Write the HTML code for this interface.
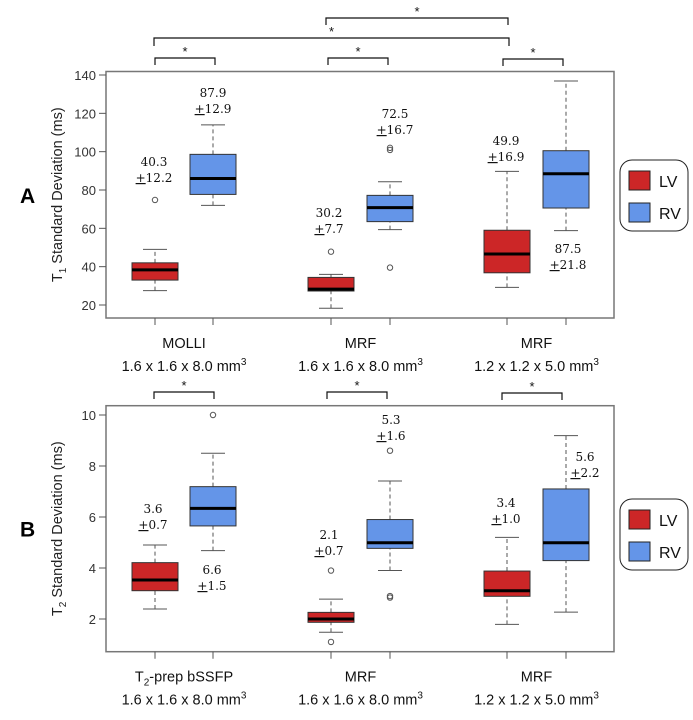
<!DOCTYPE html>
<html><head><meta charset="utf-8"><style>
body{margin:0;background:#fff;}
svg{display:block;font-family:"Liberation Sans",sans-serif;}
.ann{font-family:"DejaVu Serif","Liberation Serif",serif;font-size:12px;fill:#111;text-anchor:middle;}
</style></head><body>
<svg id="chart" width="693" height="720"></svg>
<script>
// Panel A data: [low, q1, median, q3, high]
const groupsA = ["MOLLI","MRF","MRF"];
const subA = ["1.6 x 1.6 x 8.0 mm","1.6 x 1.6 x 8.0 mm","1.2 x 1.2 x 5.0 mm"];
const lvA = [[27.5,33,38.3,42,49],[18.3,27.3,28.3,34.4,36],[29.2,36.8,46.6,59,89.7]];
const rvA = [[72,77.7,86,98.6,114],[59.3,63.5,70.8,77.2,84.3],[58.8,70.6,88.5,100.5,136.9]];
const lvOutA = [[74.8],[47.8],[]];
const rvOutA = [[],[100.9,102,39.5],[]];
const ticksA = [20,40,60,80,100,120,140];
const lvLabA = ["40.3","30.2","49.9"], lvSdA = ["12.2","7.7","16.9"];
const rvLabA = ["87.9","72.5","87.5"], rvSdA = ["12.9","16.7","21.8"];
// Panel B data
const lvB = [[2.39,3.11,3.53,4.21,4.9],[1.48,1.87,2.0,2.26,2.78],[1.79,2.89,3.11,3.88,5.2]];
const rvB = [[4.68,5.65,6.34,7.19,8.5],[3.9,4.77,4.99,5.9,7.41],[2.27,4.29,4.99,7.1,9.19]];
const lvOutB = [[],[3.9,1.1],[]];
const rvOutB = [[10],[8.6,2.84,2.9],[]];
const ticksB = [2,4,6,8,10];
const lvLabB = ["3.6","2.1","3.4"], lvSdB = ["0.7","0.7","1.0"];
const rvLabB = ["6.6","5.3","5.6"], rvSdB = ["1.5","1.6","2.2"];

const svg = document.getElementById('chart');
const NS = "http://www.w3.org/2000/svg";
function mk(tag, attrs, parent){const e=document.createElementNS(NS,tag);for(const k in attrs)e.setAttribute(k,attrs[k]);(parent||svg).appendChild(e);return e;}
const xsL=[155,331,507], xsR=[213,390,566];

function panel(cfg){
  const g = mk('g',{});
  
  
  const y = v => cfg.y0 + (cfg.v0 - v)*cfg.k;
  const frame = mk('rect',{x:106,y:cfg.top,width:508,height:cfg.bot-cfg.top,fill:'none',stroke:'#777','stroke-width':1.5},g);
   
  cfg.ticks.forEach(t=>{
    mk('line',{x1:99,x2:106,y1:y(t),y2:y(t),stroke:'#555'},g);
    const tx=mk('text',{x:96,y:y(t)+5,'text-anchor':'end','font-size':13,fill:'#333'},g);
    tx.textContent=t;
     
  });
  [...xsL,...xsR].forEach(x=>mk('line',{x1:x,x2:x,y1:cfg.bot,y2:cfg.bot+7,stroke:'#555'},g));
  const yt=mk('text',{transform:`translate(62,${(cfg.top+cfg.bot)/2}) rotate(-90)`,'text-anchor':'middle','font-size':14.5,fill:'#222'},g);
  yt.innerHTML=cfg.ytitle;
   
  const pl=mk('text',{x:20,y:(cfg.top+cfg.bot)/2+8,'font-size':21,'font-weight':'bold',fill:'#000'},g);
  pl.textContent=cfg.letter;
   
  function box(x,d,fill,outs,nm){
    const b=mk('g',{},g);
     
    mk('line',{x1:x,x2:x,y1:y(d[0]),y2:y(d[1]),stroke:'#555','stroke-dasharray':'4,3'},b);
    mk('line',{x1:x,x2:x,y1:y(d[3]),y2:y(d[4]),stroke:'#555','stroke-dasharray':'4,3'},b);
    mk('line',{x1:x-12,x2:x+12,y1:y(d[0]),y2:y(d[0]),stroke:'#555'},b);
    mk('line',{x1:x-12,x2:x+12,y1:y(d[4]),y2:y(d[4]),stroke:'#555'},b);
    mk('rect',{x:x-23,y:y(d[3]),width:46,height:y(d[1])-y(d[3]),fill:fill,stroke:'#333','stroke-width':1},b);
    mk('line',{x1:x-23,x2:x+23,y1:y(d[2]),y2:y(d[2]),stroke:'#000','stroke-width':3},b);
    outs.forEach(o=>mk('circle',{cx:x,cy:y(o),r:2.7,fill:'none',stroke:'#555'},b));
  }
  function ann(x,yy,v,sd){
    const t=mk('text',{x:x,y:yy,class:'ann'},g);t.textContent=v;
     
    const t2=mk('text',{x:x,y:yy+16,class:'ann'},g);
    t2.innerHTML='<tspan text-decoration="underline">+</tspan>'+sd;
     
  }
  for(let i=0;i<3;i++){
    box(xsL[i],cfg.lv[i],'#cc2627',cfg.lvOut[i],'box-lv-'+(i+1));
    box(xsR[i],cfg.rv[i],'#6495e8',cfg.rvOut[i],'box-rv-'+(i+1));
    ann(cfg.lvAnn[i][0],cfg.lvAnn[i][1],cfg.lvLab[i],cfg.lvSd[i]);
    ann(cfg.rvAnn[i][0],cfg.rvAnn[i][1],cfg.rvLab[i],cfg.rvSd[i]);
    const cx=(xsL[i]+xsR[i])/2+(i==0?29:0);
    const l1=mk('text',{x:(xsL[i]+xsR[i])/2,y:cfg.bot+30,'text-anchor':'middle','font-size':14.5,fill:'#111'},g);
    l1.innerHTML=cfg.groups[i];
     
    const l2=mk('text',{x:(xsL[i]+xsR[i])/2,y:cfg.bot+53,'text-anchor':'middle','font-size':14.5,fill:'#111'},g);
    l2.innerHTML=cfg.sub[i]+'<tspan font-size="10" dy="-6">3</tspan>';
     
  }
  // legend
  const lg=mk('g',{},g);
   
  mk('rect',{x:620,y:cfg.leg,width:68,height:71,rx:12,fill:'#fff',stroke:'#222'},lg);
  [['LV','#cc2627'],['RV','#6495e8']].forEach((e,j)=>{
    const le=mk('g',{},lg);
     
    mk('rect',{x:629,y:cfg.leg+11+j*32,width:21,height:19,fill:e[1],stroke:'#222'},le);
    const t=mk('text',{x:659,y:cfg.leg+27+j*32,'font-size':16,fill:'#111'},le);t.textContent=e[0];
  });
}
function bracket(x1,x2,yt,h){
  const p=mk('path',{d:`M${x1},${yt+h} V${yt} H${x2} V${yt+h}`,fill:'none',stroke:'#111','stroke-width':1.2});
   
  const s=mk('text',{x:(x1+x2)/2,y:yt-2,'text-anchor':'middle','font-size':13,fill:'#111'});s.textContent='*';
   
}
panel({name:'panel-a-t1',top:71.5,bot:318,y0:75,v0:140,k:230/120,ticks:ticksA,lv:lvA,rv:rvA,lvOut:lvOutA,rvOut:rvOutA,
  ytitle:'T<tspan font-size="10" dy="4">1</tspan><tspan dy="-4"> Standard Deviation (ms)</tspan>',letter:'A',
  lvLab:lvLabA,lvSd:lvSdA,rvLab:rvLabA,rvSd:rvSdA,
  lvAnn:[[154,166],[329,217],[506,145]],rvAnn:[[213,97],[395,118],[568,253]],
  groups:groupsA,sub:subA,leg:160});
panel({name:'panel-b-t2',top:405.7,bot:651.7,y0:415,v0:10,k:204/8,ticks:ticksB,lv:lvB,rv:rvB,lvOut:lvOutB,rvOut:rvOutB,
  ytitle:'T<tspan font-size="10" dy="4">2</tspan><tspan dy="-4"> Standard Deviation (ms)</tspan>',letter:'B',
  lvLab:lvLabB,lvSd:lvSdB,rvLab:rvLabB,rvSd:rvSdB,
  lvAnn:[[153,513],[329,539],[506,507]],rvAnn:[[212,574],[391,424],[585,461]],
  groups:['T<tspan font-size="10" dy="4">2</tspan><tspan dy="-4">-prep bSSFP</tspan>','MRF','MRF'],sub:subA,leg:499});
bracket(155,215,58,7);bracket(328,388,58,7);bracket(503,563,59,7);
bracket(154,509,38,8);bracket(326,508,18,7);
bracket(154,214,392,7);bracket(327,387,392,7);bracket(502,562,393,7);
</script>
</body></html>
